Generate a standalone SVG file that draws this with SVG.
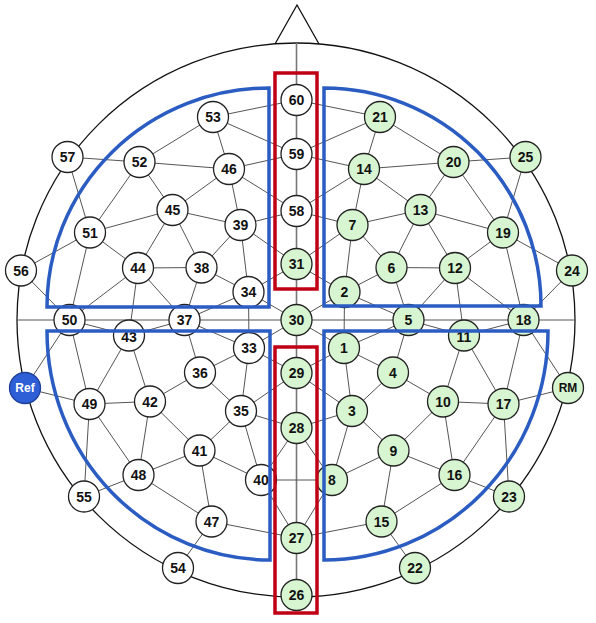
<svg xmlns="http://www.w3.org/2000/svg" width="596" height="623" viewBox="0 0 596 623">
<defs>
<style>
.e{stroke:#555;stroke-width:1;fill:none}
.c{stroke:#777;stroke-width:1.6;fill:none}
.o{stroke:#111;stroke-width:1.3;fill:none}
.w circle{fill:#fff;stroke:#222;stroke-width:1.3}
.g circle{fill:#d6f5d0;stroke:#222;stroke-width:1.3}
text{font-family:"Liberation Sans Narrow","Liberation Sans",Arial,sans-serif;font-size:14px;font-weight:bold;text-anchor:middle;dominant-baseline:central;fill:#111}
.q{stroke:#2b5cc2;stroke-width:3.5;fill:none}
.r{stroke:#c00014;stroke-width:3.5;fill:none}
</style>
</defs>
<rect width="596" height="623" fill="#fff"/>
<g id="head">
<ellipse class="o" cx="296" cy="320" rx="279" ry="277"/>
<polyline class="o" points="275,44 297,5 319,44"/>
</g>
<g id="connectors">
<line class="c" x1="296.5" y1="43" x2="296.5" y2="595"/>
<line class="e" x1="17" y1="320" x2="575" y2="320"/>
<line class="e" x1="261" y1="480" x2="332" y2="480"/>
<!-- left -->
<line class="e" x1="67.5" y1="157" x2="139.5" y2="162"/>
<line class="e" x1="67.5" y1="157" x2="90" y2="232.5"/>
<line class="e" x1="139.5" y1="162" x2="213" y2="117"/>
<line class="e" x1="139.5" y1="162" x2="229" y2="169"/>
<line class="e" x1="139.5" y1="162" x2="172.5" y2="210"/>
<line class="e" x1="139.5" y1="162" x2="90" y2="232.5"/>
<line class="e" x1="213" y1="117" x2="296.5" y2="100"/>
<line class="e" x1="213" y1="117" x2="296.5" y2="154"/>
<line class="e" x1="213" y1="117" x2="229" y2="169"/>
<line class="e" x1="229" y1="169" x2="296.5" y2="154"/>
<line class="e" x1="229" y1="169" x2="172.5" y2="210"/>
<line class="e" x1="229" y1="169" x2="240.5" y2="225"/>
<line class="e" x1="229" y1="169" x2="296.5" y2="211"/>
<line class="e" x1="172.5" y1="210" x2="90" y2="232.5"/>
<line class="e" x1="172.5" y1="210" x2="138" y2="268"/>
<line class="e" x1="172.5" y1="210" x2="201.5" y2="267.5"/>
<line class="e" x1="172.5" y1="210" x2="240.5" y2="225"/>
<line class="e" x1="240.5" y1="225" x2="296.5" y2="211"/>
<line class="e" x1="240.5" y1="225" x2="296.5" y2="264"/>
<line class="e" x1="240.5" y1="225" x2="201.5" y2="267.5"/>
<line class="e" x1="240.5" y1="225" x2="248.5" y2="292"/>
<line class="e" x1="90" y1="232.5" x2="21" y2="270.5"/>
<line class="e" x1="90" y1="232.5" x2="138" y2="268"/>
<line class="e" x1="90" y1="232.5" x2="69.5" y2="320"/>
<line class="e" x1="21" y1="270.5" x2="69.5" y2="320"/>
<line class="e" x1="138" y1="268" x2="201.5" y2="267.5"/>
<line class="e" x1="138" y1="268" x2="69.5" y2="320"/>
<line class="e" x1="138" y1="268" x2="129" y2="335.5"/>
<line class="e" x1="138" y1="268" x2="184.5" y2="320"/>
<line class="e" x1="201.5" y1="267.5" x2="248.5" y2="292"/>
<line class="e" x1="201.5" y1="267.5" x2="184.5" y2="320"/>
<line class="e" x1="248.5" y1="292" x2="296.5" y2="264"/>
<line class="e" x1="248.5" y1="292" x2="184.5" y2="320"/>
<line class="e" x1="248.5" y1="292" x2="296.5" y2="320"/>
<line class="e" x1="248.5" y1="292" x2="249" y2="348"/>
<line class="e" x1="69.5" y1="320" x2="129" y2="335.5"/>
<line class="e" x1="69.5" y1="320" x2="89.5" y2="404"/>
<line class="e" x1="69.5" y1="320" x2="25" y2="388"/>
<line class="e" x1="129" y1="335.5" x2="184.5" y2="320"/>
<line class="e" x1="129" y1="335.5" x2="150" y2="401.5"/>
<line class="e" x1="129" y1="335.5" x2="89.5" y2="404"/>
<line class="e" x1="184.5" y1="320" x2="200" y2="372.5"/>
<line class="e" x1="249" y1="348" x2="296.5" y2="320"/>
<line class="e" x1="249" y1="348" x2="184.5" y2="320"/>
<line class="e" x1="249" y1="348" x2="200" y2="372.5"/>
<line class="e" x1="249" y1="348" x2="241" y2="411"/>
<line class="e" x1="249" y1="348" x2="296.5" y2="373"/>
<line class="e" x1="200" y1="372.5" x2="150" y2="401.5"/>
<line class="e" x1="200" y1="372.5" x2="241" y2="411"/>
<line class="e" x1="25" y1="388" x2="89.5" y2="404"/>
<line class="e" x1="89.5" y1="404" x2="150" y2="401.5"/>
<line class="e" x1="89.5" y1="404" x2="84" y2="496.5"/>
<line class="e" x1="89.5" y1="404" x2="138.5" y2="475"/>
<line class="e" x1="150" y1="401.5" x2="138.5" y2="475"/>
<line class="e" x1="150" y1="401.5" x2="199.5" y2="450.5"/>
<line class="e" x1="241" y1="411" x2="296.5" y2="373"/>
<line class="e" x1="241" y1="411" x2="296.5" y2="428"/>
<line class="e" x1="241" y1="411" x2="199.5" y2="450.5"/>
<line class="e" x1="241" y1="411" x2="261" y2="480"/>
<line class="e" x1="199.5" y1="450.5" x2="138.5" y2="475"/>
<line class="e" x1="199.5" y1="450.5" x2="261" y2="480"/>
<line class="e" x1="199.5" y1="450.5" x2="211.5" y2="521.5"/>
<line class="e" x1="261" y1="480" x2="296.5" y2="428"/>
<line class="e" x1="261" y1="480" x2="296.5" y2="538"/>
<line class="e" x1="211.5" y1="521.5" x2="138.5" y2="475"/>
<line class="e" x1="211.5" y1="521.5" x2="296.5" y2="538"/>
<line class="e" x1="211.5" y1="521.5" x2="178" y2="568"/>
<line class="e" x1="138.5" y1="475" x2="84" y2="496.5"/>
<!-- right -->
<line class="e" x1="525.5" y1="157" x2="453.5" y2="162"/>
<line class="e" x1="525.5" y1="157" x2="503" y2="232.5"/>
<line class="e" x1="453.5" y1="162" x2="380" y2="117"/>
<line class="e" x1="453.5" y1="162" x2="364" y2="169"/>
<line class="e" x1="453.5" y1="162" x2="420.5" y2="210"/>
<line class="e" x1="453.5" y1="162" x2="503" y2="232.5"/>
<line class="e" x1="380" y1="117" x2="296.5" y2="100"/>
<line class="e" x1="380" y1="117" x2="296.5" y2="154"/>
<line class="e" x1="380" y1="117" x2="364" y2="169"/>
<line class="e" x1="364" y1="169" x2="296.5" y2="154"/>
<line class="e" x1="364" y1="169" x2="420.5" y2="210"/>
<line class="e" x1="364" y1="169" x2="352.5" y2="225"/>
<line class="e" x1="364" y1="169" x2="296.5" y2="211"/>
<line class="e" x1="420.5" y1="210" x2="503" y2="232.5"/>
<line class="e" x1="420.5" y1="210" x2="455" y2="268"/>
<line class="e" x1="420.5" y1="210" x2="391.5" y2="267.5"/>
<line class="e" x1="420.5" y1="210" x2="352.5" y2="225"/>
<line class="e" x1="352.5" y1="225" x2="296.5" y2="211"/>
<line class="e" x1="352.5" y1="225" x2="296.5" y2="264"/>
<line class="e" x1="352.5" y1="225" x2="391.5" y2="267.5"/>
<line class="e" x1="352.5" y1="225" x2="344.5" y2="292"/>
<line class="e" x1="503" y1="232.5" x2="572" y2="270.5"/>
<line class="e" x1="503" y1="232.5" x2="455" y2="268"/>
<line class="e" x1="503" y1="232.5" x2="523.5" y2="320"/>
<line class="e" x1="572" y1="270.5" x2="523.5" y2="320"/>
<line class="e" x1="455" y1="268" x2="391.5" y2="267.5"/>
<line class="e" x1="455" y1="268" x2="523.5" y2="320"/>
<line class="e" x1="455" y1="268" x2="464" y2="335.5"/>
<line class="e" x1="455" y1="268" x2="408.5" y2="320"/>
<line class="e" x1="391.5" y1="267.5" x2="344.5" y2="292"/>
<line class="e" x1="391.5" y1="267.5" x2="408.5" y2="320"/>
<line class="e" x1="344.5" y1="292" x2="296.5" y2="264"/>
<line class="e" x1="344.5" y1="292" x2="408.5" y2="320"/>
<line class="e" x1="344.5" y1="292" x2="296.5" y2="320"/>
<line class="e" x1="344.5" y1="292" x2="344" y2="348"/>
<line class="e" x1="523.5" y1="320" x2="464" y2="335.5"/>
<line class="e" x1="523.5" y1="320" x2="503.5" y2="404"/>
<line class="e" x1="523.5" y1="320" x2="568" y2="388"/>
<line class="e" x1="464" y1="335.5" x2="408.5" y2="320"/>
<line class="e" x1="464" y1="335.5" x2="443" y2="401.5"/>
<line class="e" x1="464" y1="335.5" x2="503.5" y2="404"/>
<line class="e" x1="408.5" y1="320" x2="393" y2="372.5"/>
<line class="e" x1="344" y1="348" x2="296.5" y2="320"/>
<line class="e" x1="344" y1="348" x2="408.5" y2="320"/>
<line class="e" x1="344" y1="348" x2="393" y2="372.5"/>
<line class="e" x1="344" y1="348" x2="352" y2="411"/>
<line class="e" x1="344" y1="348" x2="296.5" y2="373"/>
<line class="e" x1="393" y1="372.5" x2="443" y2="401.5"/>
<line class="e" x1="393" y1="372.5" x2="352" y2="411"/>
<line class="e" x1="568" y1="388" x2="503.5" y2="404"/>
<line class="e" x1="503.5" y1="404" x2="443" y2="401.5"/>
<line class="e" x1="503.5" y1="404" x2="509" y2="496.5"/>
<line class="e" x1="503.5" y1="404" x2="454.5" y2="475"/>
<line class="e" x1="443" y1="401.5" x2="454.5" y2="475"/>
<line class="e" x1="443" y1="401.5" x2="393.5" y2="450.5"/>
<line class="e" x1="352" y1="411" x2="296.5" y2="373"/>
<line class="e" x1="352" y1="411" x2="296.5" y2="428"/>
<line class="e" x1="352" y1="411" x2="393.5" y2="450.5"/>
<line class="e" x1="352" y1="411" x2="332" y2="480"/>
<line class="e" x1="393.5" y1="450.5" x2="454.5" y2="475"/>
<line class="e" x1="393.5" y1="450.5" x2="332" y2="480"/>
<line class="e" x1="393.5" y1="450.5" x2="381.5" y2="521.5"/>
<line class="e" x1="332" y1="480" x2="296.5" y2="428"/>
<line class="e" x1="332" y1="480" x2="296.5" y2="538"/>
<line class="e" x1="381.5" y1="521.5" x2="454.5" y2="475"/>
<line class="e" x1="381.5" y1="521.5" x2="296.5" y2="538"/>
<line class="e" x1="381.5" y1="521.5" x2="415" y2="568"/>
<line class="e" x1="454.5" y1="475" x2="509" y2="496.5"/>
</g>
<g id="n60" class="w"><circle cx="296.5" cy="100" r="15.5"/><text x="296.5" y="100">60</text></g>
<g id="n59" class="w"><circle cx="296.5" cy="154" r="15.5"/><text x="296.5" y="154">59</text></g>
<g id="n58" class="w"><circle cx="296.5" cy="211" r="15.5"/><text x="296.5" y="211">58</text></g>
<g id="n31" class="g"><circle cx="296.5" cy="264" r="15.5"/><text x="296.5" y="264">31</text></g>
<g id="n30" class="g"><circle cx="296.5" cy="320" r="15.5"/><text x="296.5" y="320">30</text></g>
<g id="n29" class="g"><circle cx="296.5" cy="373" r="15.5"/><text x="296.5" y="373">29</text></g>
<g id="n28" class="g"><circle cx="296.5" cy="428" r="15.5"/><text x="296.5" y="428">28</text></g>
<g id="n27" class="g"><circle cx="296.5" cy="538" r="15.5"/><text x="296.5" y="538">27</text></g>
<g id="n26" class="g"><circle cx="296.5" cy="595" r="15.5"/><text x="296.5" y="595">26</text></g>
<g id="n53" class="w"><circle cx="213" cy="117" r="15.5"/><text x="213" y="117">53</text></g>
<g id="n46" class="w"><circle cx="229" cy="169" r="15.5"/><text x="229" y="169">46</text></g>
<g id="n52" class="w"><circle cx="139.5" cy="162" r="15.5"/><text x="139.5" y="162">52</text></g>
<g id="n57" class="w"><circle cx="67.5" cy="157" r="15.5"/><text x="67.5" y="157">57</text></g>
<g id="n45" class="w"><circle cx="172.5" cy="210" r="15.5"/><text x="172.5" y="210">45</text></g>
<g id="n39" class="w"><circle cx="240.5" cy="225" r="15.5"/><text x="240.5" y="225">39</text></g>
<g id="n51" class="w"><circle cx="90" cy="232.5" r="15.5"/><text x="90" y="232.5">51</text></g>
<g id="n38" class="w"><circle cx="201.5" cy="267.5" r="15.5"/><text x="201.5" y="267.5">38</text></g>
<g id="n44" class="w"><circle cx="138" cy="268" r="15.5"/><text x="138" y="268">44</text></g>
<g id="n56" class="w"><circle cx="21" cy="270.5" r="15.5"/><text x="21" y="270.5">56</text></g>
<g id="n34" class="w"><circle cx="248.5" cy="292" r="15.5"/><text x="248.5" y="292">34</text></g>
<g id="n37" class="w"><circle cx="184.5" cy="320" r="15.5"/><text x="184.5" y="320">37</text></g>
<g id="n50" class="w"><circle cx="69.5" cy="320" r="15.5"/><text x="69.5" y="320">50</text></g>
<g id="n43" class="w"><circle cx="129" cy="335.5" r="15.5"/><text x="129" y="337">43</text></g>
<g id="n33" class="w"><circle cx="249" cy="348" r="15.5"/><text x="249" y="348">33</text></g>
<g id="n36" class="w"><circle cx="200" cy="372.5" r="15.5"/><text x="200" y="372.5">36</text></g>
<g id="nRef"><circle cx="25" cy="388" r="15.5" fill="#2f5fd6" stroke="#1d3f9a" stroke-width="1.3"/><text x="25" y="388" style="fill:#fff;font-size:12px">Ref</text></g>
<g id="n42" class="w"><circle cx="150" cy="401.5" r="15.5"/><text x="150" y="401.5">42</text></g>
<g id="n49" class="w"><circle cx="89.5" cy="404" r="15.5"/><text x="89.5" y="404">49</text></g>
<g id="n35" class="w"><circle cx="241" cy="411" r="15.5"/><text x="241" y="411">35</text></g>
<g id="n41" class="w"><circle cx="199.5" cy="450.5" r="15.5"/><text x="199.5" y="450.5">41</text></g>
<g id="n48" class="w"><circle cx="138.5" cy="475" r="15.5"/><text x="138.5" y="475">48</text></g>
<g id="n40" class="w"><circle cx="261" cy="480" r="15.5"/><text x="261" y="480">40</text></g>
<g id="n55" class="w"><circle cx="84" cy="496.5" r="15.5"/><text x="84" y="496.5">55</text></g>
<g id="n47" class="w"><circle cx="211.5" cy="521.5" r="15.5"/><text x="211.5" y="521.5">47</text></g>
<g id="n54" class="w"><circle cx="178" cy="568" r="15.5"/><text x="178" y="568">54</text></g>
<g id="n21" class="g"><circle cx="380" cy="117" r="15.5"/><text x="380" y="117">21</text></g>
<g id="n14" class="g"><circle cx="364" cy="169" r="15.5"/><text x="364" y="169">14</text></g>
<g id="n20" class="g"><circle cx="453.5" cy="162" r="15.5"/><text x="453.5" y="162">20</text></g>
<g id="n25" class="g"><circle cx="525.5" cy="157" r="15.5"/><text x="525.5" y="157">25</text></g>
<g id="n13" class="g"><circle cx="420.5" cy="210" r="15.5"/><text x="420.5" y="210">13</text></g>
<g id="n7" class="g"><circle cx="352.5" cy="225" r="15.5"/><text x="352.5" y="225">7</text></g>
<g id="n19" class="g"><circle cx="503" cy="232.5" r="15.5"/><text x="503" y="232.5">19</text></g>
<g id="n6" class="g"><circle cx="391.5" cy="267.5" r="15.5"/><text x="391.5" y="267.5">6</text></g>
<g id="n12" class="g"><circle cx="455" cy="268" r="15.5"/><text x="455" y="268">12</text></g>
<g id="n24" class="g"><circle cx="572" cy="270.5" r="15.5"/><text x="572" y="270.5">24</text></g>
<g id="n2" class="g"><circle cx="344.5" cy="292" r="15.5"/><text x="344.5" y="292">2</text></g>
<g id="n5" class="g"><circle cx="408.5" cy="320" r="15.5"/><text x="408.5" y="320">5</text></g>
<g id="n18" class="g"><circle cx="523.5" cy="320" r="15.5"/><text x="523.5" y="320">18</text></g>
<g id="n11" class="g"><circle cx="464" cy="335.5" r="15.5"/><text x="464" y="337">11</text></g>
<g id="n1" class="g"><circle cx="344" cy="348" r="15.5"/><text x="344" y="348">1</text></g>
<g id="n4" class="g"><circle cx="393" cy="372.5" r="15.5"/><text x="393" y="372.5">4</text></g>
<g id="nRM" class="g"><circle cx="568" cy="388" r="15.5"/><text x="568" y="388" style="font-size:12px">RM</text></g>
<g id="n10" class="g"><circle cx="443" cy="401.5" r="15.5"/><text x="443" y="401.5">10</text></g>
<g id="n17" class="g"><circle cx="503.5" cy="404" r="15.5"/><text x="503.5" y="404">17</text></g>
<g id="n3" class="g"><circle cx="352" cy="411" r="15.5"/><text x="352" y="411">3</text></g>
<g id="n9" class="g"><circle cx="393.5" cy="450.5" r="15.5"/><text x="393.5" y="450.5">9</text></g>
<g id="n16" class="g"><circle cx="454.5" cy="475" r="15.5"/><text x="454.5" y="475">16</text></g>
<g id="n8" class="g"><circle cx="332" cy="480" r="15.5"/><text x="332" y="480">8</text></g>
<g id="n23" class="g"><circle cx="509" cy="496.5" r="15.5"/><text x="509" y="496.5">23</text></g>
<g id="n15" class="g"><circle cx="381.5" cy="521.5" r="15.5"/><text x="381.5" y="521.5">15</text></g>
<g id="n22" class="g"><circle cx="415" cy="568" r="15.5"/><text x="415" y="568">22</text></g>
<g id="regions">
<path class="q" d="M269,307 V88 A222,219 0 0 0 47,307 Z"/>
<path class="q" d="M324,306 V88 A217,218 0 0 1 541,306 Z"/>
<path class="q" d="M270,331 V560 A223,229 0 0 1 47,331 Z"/>
<path class="q" d="M324,331 V560 A224,229 0 0 0 548,331 Z"/>
<rect class="r" x="275" y="73" width="42" height="216"/>
<rect class="r" x="275" y="347" width="42" height="266"/>
</g>
</svg>
